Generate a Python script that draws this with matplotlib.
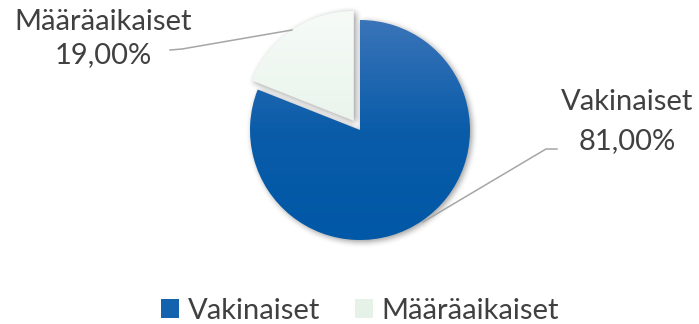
import numpy as np
import matplotlib
matplotlib.use("Agg")
import matplotlib.pyplot as plt
from matplotlib.patches import Patch
from matplotlib.colors import LinearSegmentedColormap

# Employment type shares
labels = ["Vakinaiset", "Määräaikaiset"]
values = [81.0, 19.0]
value_labels = ["81,00%", "19,00%"]

FONT = "Lato"
TXT = "#404040"
W, H = 699, 324

fig = plt.figure(figsize=(W / 100, H / 100), dpi=100)
ax = fig.add_axes([0, 0, 1, 1])

cx, cy, R = 360, 194, 110
# explode offset is in data units here (radius is not 1)
wedges, _ = ax.pie(values, center=(cx, cy), radius=R, startangle=90,
                   counterclock=False, explode=[0, 11],
                   wedgeprops=dict(linewidth=0))


def box_blur(a, r):
    k = 2 * r + 1
    for axis in (0, 1):
        p = np.pad(a, [(r, r) if i == axis else (0, 0) for i in range(2)], mode="constant")
        c = np.cumsum(p, axis=axis)
        c = np.insert(c, 0, 0, axis=axis)
        if axis == 0:
            a = (c[k:, :] - c[:-k, :]) / k
        else:
            a = (c[:, k:] - c[:, :-k]) / k
    return a


# soft drop shadow under each slice
pad = 30
gx = np.arange(cx - R - pad, cx + R + pad + 1, 1.0)
gy = np.arange(cy - R - pad, cy + R + pad + 1, 1.0)
XX, YY = np.meshgrid(gx, gy)
pts = np.column_stack([XX.ravel() - 1.5, YY.ravel() + 2.5])
mask = np.zeros(XX.shape)
for w in wedges:
    path = w.get_patch_transform().transform_path(w.get_path())
    mask = np.maximum(mask, path.contains_points(pts).reshape(XX.shape).astype(float))
soft = box_blur(box_blur(mask, 3), 3)
shadow = np.zeros(XX.shape + (4,))
shadow[..., :3] = 0.3
shadow[..., 3] = 0.55 * soft
ax.imshow(shadow, extent=[gx[0] - 0.5, gx[-1] + 0.5, gy[0] - 0.5, gy[-1] + 0.5],
          origin="lower", zorder=0.5, interpolation="bilinear")

# vertical gradient fills clipped to each slice
cmaps = [
    LinearSegmentedColormap.from_list("blue", ["#0058a6", "#0a5ca9", "#3a74b9"]),
    LinearSegmentedColormap.from_list("mint", ["#d9e7db", "#eaf4ec", "#f6fbf7"]),
]
grad = np.linspace(0, 1, 256).reshape(-1, 1)
for w, cm in zip(wedges, cmaps):
    w.set_facecolor("none")
    x0, y0 = w.center[0] - R, w.center[1] - R
    im = ax.imshow(grad, extent=[x0, x0 + 2 * R, y0, y0 + 2 * R], origin="lower",
                   cmap=cm, aspect="auto", zorder=1, interpolation="bilinear")
    im.set_clip_path(w)

# leader lines
ax.plot([170, 182, 292], [H - 50, H - 49, H - 30], color="#a6a6a6", lw=1.1, zorder=3)
ax.plot([557, 546, 423], [H - 149, H - 149, H - 222], color="#a6a6a6", lw=1.1, zorder=3)

# data labels
fs = 21
ax.text(103, H - 22, labels[1], ha="center", va="center", fontsize=fs, color=TXT, family=FONT)
ax.text(103, H - 55, value_labels[1], ha="center", va="center", fontsize=fs, color=TXT, family=FONT)
ax.text(627, H - 102, labels[0], ha="center", va="center", fontsize=fs, color=TXT, family=FONT)
ax.text(627, H - 141, value_labels[0], ha="center", va="center", fontsize=fs, color=TXT, family=FONT)

ax.set_xlim(0, W)
ax.set_ylim(0, H)
ax.set_aspect("equal")
ax.axis("off")

handles = [Patch(facecolor="#1461ad", edgecolor="none"),
           Patch(facecolor="#e6f1e8", edgecolor="none")]
leg = fig.legend(handles, labels, loc="center", bbox_to_anchor=(360 / W, 13 / H),
                 ncol=2, frameon=False, handlelength=0.62, handleheight=0.62,
                 handletextpad=0.3, columnspacing=1.2,
                 prop=dict(family=FONT, size=fs))
for t in leg.get_texts():
    t.set_color(TXT)

fig.savefig("out.png", dpi=100, facecolor="white")
